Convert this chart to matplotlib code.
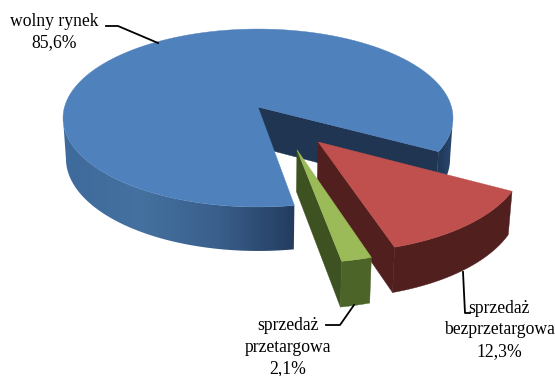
import numpy as np
import matplotlib
matplotlib.use("Agg")
import matplotlib.pyplot as plt
from matplotlib.colors import LinearSegmentedColormap
from matplotlib.patches import Polygon

# Data
labels = ["wolny rynek\n85,6%", "sprzedaż\nbezprzetargowa\n12,3%", "sprzedaż\nprzetargowa\n2,1%"]
values = [85.6, 12.3, 2.1]

plt.rcParams["font.family"] = ["Liberation Serif", "DejaVu Serif"]

# Pie projection, in pixels of the 555x376 picture
cx, cy = 258.0, 107.0
rx, ry = 193.5, 87.6
persp = 0.1236
start_angle = -80.5

# Offset of each slice in the plane of the pie
offsets = [(0.0, 0.0), (0.296, -0.38), (0.19, -0.46)]


def project(u, v):
    d = 1 + persp * v
    return cx + rx * u / d, cy - ry * v / d


def lower(u, v):
    # same point on the bottom of the pie
    x, y = project(u, v)
    return cx + (x - cx) * 0.985, y + 40 - 4 * v


def top_points(a0, a1, off):
    t = np.radians(np.linspace(a0, a1, 120))
    u = np.r_[0, np.cos(t)] + off[0]
    v = np.r_[0, np.sin(t)] + off[1]
    return u, v


def arc_band(a0, a1, off):
    t = np.radians(np.linspace(a0, a1, 120))
    u = np.cos(t) + off[0]
    v = np.sin(t) + off[1]
    x1, y1 = project(u, v)
    x2, y2 = lower(u, v)
    return np.c_[np.r_[x1, x2[::-1]], np.r_[y1, y2[::-1]]]


def edge_band(a, off):
    t = np.radians(a)
    u = np.array([off[0], off[0] + np.cos(t)])
    v = np.array([off[1], off[1] + np.sin(t)])
    x1, y1 = project(u, v)
    x2, y2 = lower(u, v)
    return np.c_[np.r_[x1, x2[::-1]], np.r_[y1, y2[::-1]]]


def draw_top(ax, a0, a1, off, color, z):
    u, v = top_points(a0, a1, off)
    x, y = project(u, v)
    ax.add_patch(Polygon(np.c_[x, y], closed=True, fc=color, ec=color, lw=0.3, zorder=z))


def draw_face(ax, pts, color, z):
    ax.add_patch(Polygon(pts, closed=True, fc=color, ec=color, lw=0.3, zorder=z))


def draw_gradient(ax, pts, colors, z):
    # side of a slice, shaded from left to right
    cmap = LinearSegmentedColormap.from_list("side", colors)
    x0, x1 = pts[:, 0].min(), pts[:, 0].max()
    y0, y1 = pts[:, 1].min(), pts[:, 1].max()
    im = ax.imshow(np.linspace(0, 1, 256)[None, :], cmap=cmap, extent=(x0, x1, y1, y0),
                   aspect="auto", zorder=z, interpolation="bilinear")
    clip = Polygon(pts, closed=True, transform=ax.transData, fc="none", ec="none")
    ax.add_patch(clip)
    im.set_clip_path(clip)


spans = [val / sum(values) * 360 for val in values]
blue_end = start_angle - spans[0]   # clockwise from the start angle
red_a = blue_end + 360
red_b = red_a - spans[1]
green_a = red_b
green_b = green_a - spans[2]

fig = plt.figure(figsize=(5.55, 3.76), dpi=100)
ax = fig.add_axes([0, 0, 1, 1])
ax.axis("off")

# Blue slice
draw_gradient(ax, arc_band(-173, start_angle, offsets[0]),
              ["#3F6A9C", "#44719F", "#3A5F8C", "#233C5E"], 1)
draw_gradient(ax, arc_band(red_a, -7, offsets[0]), ["#1F3552", "#2A4A75"], 1)
draw_face(ax, edge_band(red_a, offsets[0]), "#1F3552", 2)
draw_top(ax, start_angle, blue_end, offsets[0], "#4F81BD", 3)

# Red slice
draw_face(ax, edge_band(red_b, offsets[1]), "#501F1E", 4)
draw_face(ax, arc_band(red_b, red_a, offsets[1]), "#501F1E", 4)
draw_top(ax, red_b, red_a, offsets[1], "#C0504D", 5)

# Green slice
draw_face(ax, edge_band(green_b, offsets[2]), "#3E5120", 6)
draw_face(ax, arc_band(green_b, green_a, offsets[2]), "#4C6428", 6)
draw_top(ax, green_b, green_a, offsets[2], "#9BBB59", 7)

# Leader lines
ax.plot([106, 118, 158], [26, 26, 43], color="black", lw=1.3, zorder=8)
ax.plot([463, 465, 470], [272, 313, 313], color="black", lw=1.3, zorder=8)
ax.plot([354, 340, 326], [305, 325, 325], color="black", lw=1.3, zorder=8)

# Labels
ax.text(54, 32, labels[0], ha="center", va="center", fontsize=12.7, linespacing=1.38, color="black")
ax.text(499, 330, labels[1], ha="center", va="center", fontsize=12.7, linespacing=1.38, color="black")
ax.text(288, 347, labels[2], ha="center", va="center", fontsize=12.7, linespacing=1.38, color="black")

ax.set_xlim(0, 555)
ax.set_ylim(376, 0)

fig.savefig("out.png", dpi=100, facecolor="white")
